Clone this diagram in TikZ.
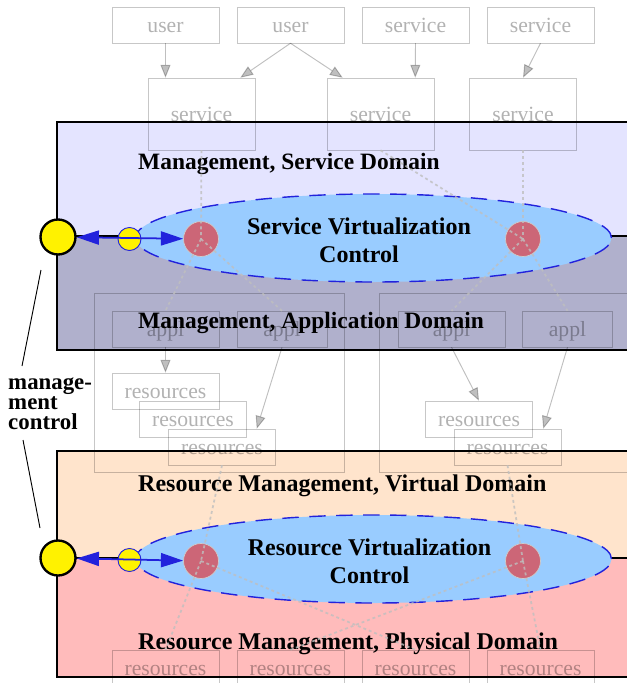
\documentclass[tikz,border=0pt]{standalone}
\usepackage{fontspec}
\setmainfont{Liberation Serif}
\usetikzlibrary{shapes.geometric,arrows.meta,calc}
\definecolor{svcdom}{RGB}{228,228,255}
\definecolor{appdom}{RGB}{176,176,204}
\definecolor{virtdom}{RGB}{255,228,204}
\definecolor{physdom}{RGB}{255,187,187}
\definecolor{ctlblue}{RGB}{153,204,255}
\definecolor{ctledge}{RGB}{34,34,220}
\definecolor{agentred}{RGB}{204,102,119}
\newcommand{\gfont}{\fontsize{18.5}{20}\selectfont}
\newcommand{\dfont}{\fontsize{20}{24}\selectfont\bfseries}
\newcommand{\rfont}{\fontsize{20.5}{24}\selectfont\bfseries}
\newcommand{\cfont}{\fontsize{20.5}{24}\selectfont\bfseries}
\newcommand{\mfont}{\fontsize{19.5}{17}\selectfont\bfseries}

\begin{document}
\begin{tikzpicture}[
    x=0.03cm, y=-0.03cm,
    gbox/.style={rectangle, draw=black, draw opacity=.22, text opacity=.3, minimum width=3.21cm, minimum height=1.08cm, inner sep=0pt, text height=15pt, text depth=2.2pt, font=\gfont},
    gtall/.style={gbox, minimum height=2.16cm},
    gnarrow/.style={gbox, minimum width=2.7cm},
    cluster/.style={rectangle, draw=black, draw opacity=.22, inner sep=0pt},
    garrow/.style={-{Triangle[length=11pt, width=8.5pt]}, black, opacity=.25, line width=.8pt},
    dotline/.style={draw=black!25, opacity=.8, line width=1.5pt, dash pattern=on 2.5pt off 2.5pt},
    ctl/.style={ellipse, draw=ctledge, fill=ctlblue, line width=1.2pt, dash pattern=on 14pt off 9pt, minimum width=14.28cm, minimum height=2.64cm},
    agent/.style={circle, fill=agentred, draw=black!20, line width=.6pt, minimum size=1.05cm, inner sep=0pt},
    port/.style={circle, fill=yellow, draw=black, line width=2pt, minimum size=1.05cm, inner sep=0pt},
    subport/.style={circle, fill=yellow, draw=ctledge, line width=.8pt, minimum size=.69cm, inner sep=0pt},
    ctlarrow/.style={{Triangle[length=19pt, width=12pt]}-{Triangle[length=19pt, width=12pt]}, ctledge, line width=1.5pt},
    domlabel/.style={anchor=west, font=\dfont, inner sep=0pt}
]
    \useasboundingbox (0,0) rectangle (627,683);
    \clip (0,0) rectangle (627,683);

    % Domains
    \fill[svcdom] (57,122) rectangle (640,236);
    \fill[appdom] (57,236) rectangle (640,350);
    \fill[virtdom] (57,451) rectangle (640,558);
    \fill[physdom] (57,558) rectangle (640,677);
    \draw[line width=1pt] (57,122) rectangle (640,350) (57,236) -- (640,236);
    \draw[line width=1pt] (57,451) rectangle (640,677) (57,558) -- (640,558);

    % Service graph
    \node[gbox] (usrA) at (165.5,25) {user};
    \node[gbox] (usrB) at (290.5,25) {user};
    \node[gbox] (srvA) at (415.5,25) {service};
    \node[gbox] (srvB) at (540.5,25) {service};
    \node[gtall] (svcA) at (201.5,114) {service};
    \node[gtall] (svcB) at (380.5,114) {service};
    \node[gtall] (svcC) at (523,114) {service};

    % Application clusters
    \node[cluster, minimum width=7.5cm, minimum height=5.37cm] (clL) at (219,382.5) {};
    \node[cluster, minimum width=8.13cm, minimum height=5.37cm] (clR) at (514.5,382.5) {};
    \node[gbox] (apA) at (165.5,329) {appl};
    \node[gnarrow] (apB) at (282,329) {appl};
    \node[gbox] (apC) at (451.5,329) {appl};
    \node[gnarrow] (apD) at (567.5,329) {appl};
    \node[gbox] (rsA) at (165.5,391) {resources};
    \node[gbox] (rsB) at (193,419) {resources};
    \node[gbox] (rsC) at (222,447) {resources};
    \node[gbox] (rsD) at (479,419) {resources};
    \node[gbox] (rsE) at (507.5,447) {resources};

    % Physical resources
    \node[gbox] (rpA) at (165.5,668) {resources};
    \node[gbox] (rpB) at (290.5,668) {resources};
    \node[gbox] (rpC) at (415.5,668) {resources};
    \node[gbox] (rpD) at (540.5,668) {resources};

    % Graph edges
    \draw[garrow] (usrA.south) -- (svcA.north -| usrA);
    \draw[garrow] (usrB.south) -- ($(svcA.north east)+(-15,0)$);
    \draw[garrow] (usrB.south) -- ($(svcB.north west)+(16,0)$);
    \draw[garrow] (srvA.south) -- ($(svcB.north east)+(-19,0)$);
    \draw[garrow] (srvB.south) -- (svcC.north);
    \draw[garrow] (apA.south) -- (rsA.north);
    \draw[garrow] (apB.south) -- ($(rsC.north east)+(-19,0)$);
    \draw[garrow] (apC.south) -- (rsD.north);
    \draw[garrow] (apD.south) -- ($(rsE.north east)+(-18,0)$);

    % Domain labels
    \node[domlabel] (lblSvc) at (138,164) {Management, Service Domain};
    \node[domlabel] (lblApp) at (138,323) {Management, Application Domain};
    \node[domlabel, font=\rfont] (lblVirt) at (138,486) {Resource Management, Virtual Domain};
    \node[domlabel, font=\rfont] (lblPhys) at (138,644) {Resource Management, Physical Domain};

    % Controls
    \node[ctl] (svctl) at (373.5,238) {};
    \node[ctl] (rsctl) at (373.5,559) {};
    \node[font=\cfont, align=center] (svtxt) at (359,240) {Service Virtualization\\Control};
    \node[font=\cfont, align=center] (rstxt) at (369.5,561.5) {Resource Virtualization\\Control};
    \node[agent] (svA) at (201,239) {};
    \node[agent] (svB) at (523,239) {};
    \node[agent] (rvA) at (201,561) {};
    \node[agent] (rvB) at (523,561) {};

    % Ports
    \node[port] (mgA) at (58,237) {};
    \node[subport] (miA) at (129.5,239) {};
    \node[port] (mgB) at (58,558) {};
    \node[subport] (miB) at (129.5,560) {};
    \draw[ctlarrow] (mgA) -- (svA);
    \draw[ctlarrow] (mgB) -- (rvA);

    % Management control
    \node[font=\mfont, align=left, anchor=west, inner sep=0pt] (mctl) at (8,404) {manage-\\ment\\control};
    \coordinate (mcA1) at (22,366);
    \coordinate (mcA2) at (41,270);
    \coordinate (mcB1) at (23,440);
    \coordinate (mcB2) at (40,528);
    \draw[line width=.8pt] (mcA1) -- (mcA2);
    \draw[line width=.8pt] (mcB1) -- (mcB2);

    % Dotted links
    \draw[dotline] (svcA.south) -- (svA.center);
    \draw[dotline] (svcB.south) -- (svB.center);
    \draw[dotline] (svcC.south) -- (svB.center);
    \draw[dotline] (svA.center) -- (apA.north);
    \draw[dotline] (svA.center) -- (apB.north);
    \draw[dotline] (svB.center) -- (apC.north);
    \draw[dotline] (svB.center) -- (apD.north);
    \draw[dotline] (rsC.south) -- (rvA.center);
    \draw[dotline] (rsE.south) -- (rvB.center);
    \draw[dotline] (rvA.center) -- (rpA.north);
    \draw[dotline] (rvA.center) -- (rpC.north);
    \draw[dotline] (rvB.center) -- (rpB.north);
    \draw[dotline] (rvB.center) -- (rpD.north);
\end{tikzpicture}
\end{document}
